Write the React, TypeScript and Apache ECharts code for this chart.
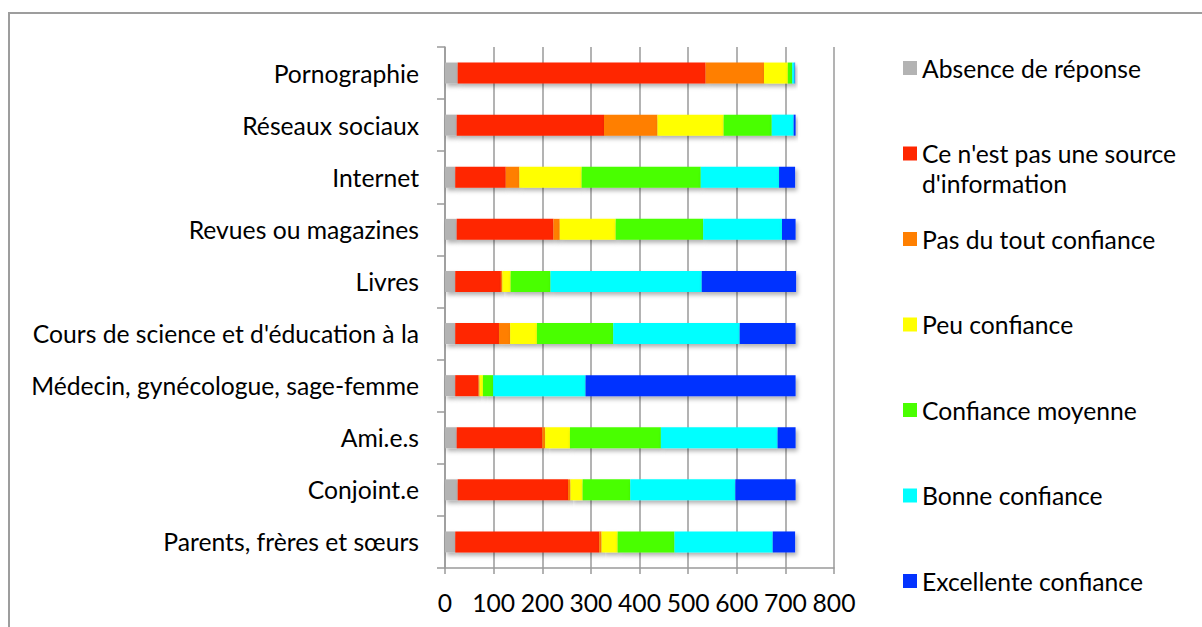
import React, { useEffect, useRef } from "react";
import * as echarts from "echarts";

const categories = [
  "Pornographie",
  "Réseaux sociaux",
  "Internet",
  "Revues ou magazines",
  "Livres",
  "Cours de science et d'éducation à la",
  "Médecin, gynécologue, sage-femme",
  "Ami.e.s",
  "Conjoint.e",
  "Parents, frères et sœurs",
];

const seriesNames = [
  "Absence de réponse",
  "Ce n'est pas une source d'information",
  "Pas du tout confiance",
  "Peu confiance",
  "Confiance moyenne",
  "Bonne confiance",
  "Excellente confiance",
];

const absence = [26, 24, 21, 24, 21, 21, 21, 24, 26, 21];
const pasSource = [510, 303, 104, 199, 94, 90, 48, 176, 227, 296];
const pasDuTout = [120, 110, 28, 13, 3, 23, 2, 6, 5, 5];
const peu = [49, 136, 128, 115, 17, 55, 7, 51, 25, 33];
const moyenne = [9, 99, 245, 180, 82, 157, 21, 187, 98, 117];
const bonne = [5, 45, 161, 162, 311, 260, 190, 240, 216, 202];
const excellente = [1, 4, 33, 28, 194, 115, 432, 37, 124, 46];

const values = [absence, pasSource, pasDuTout, peu, moyenne, bonne, excellente];
const colors = ["#b3b3b3", "#ff2600", "#ff7f00", "#ffff00", "#4aff00", "#00ffff", "#0433ff"];
const xTicks = [0, 100, 200, 300, 400, 500, 600, 700, 800];

const FONT = "Lato";
const FS = 24.7;

export default function App() {
  const ref = useRef<HTMLDivElement>(null);
  useEffect(() => {
    if (!ref.current) return;
    const chart = echarts.init(ref.current, undefined, { renderer: "svg" });
    const legendCenters = [68, 153.5, 239, 324.5, 410, 495.5, 581];
    const legends = seriesNames.map((name, i) => {
      const twoLine = i === 1;
      return {
        show: true,
        orient: "vertical",
        left: 903,
        top: twoLine ? legendCenters[i] - 45 : legendCenters[i] - 15,
        padding: 0,
        itemWidth: 14,
        itemHeight: 14,
        icon: "rect",
        selectedMode: false,
        data: [name],
        formatter: (n: string) =>
          n === "Ce n'est pas une source d'information" ? "\nCe n'est pas une source\nd'information" : n,
        textStyle: { fontFamily: FONT, fontSize: FS, color: "#000", lineHeight: twoLine ? 30 : 30 },
      };
    });
    chart.setOption({
      animation: false,
      backgroundColor: "#fff",
      color: colors,
      graphic: [
        {
          type: "rect",
          shape: { x: 9, y: 13, width: 1250, height: 700 },
          style: { fill: "none", stroke: "#9d9d9d", lineWidth: 2 },
          silent: true,
        },
      ],
      legend: legends,
      grid: { left: 445, top: 47, width: 389, height: 521, containLabel: false },
      xAxis: {
        type: "value",
        min: xTicks[0],
        max: xTicks[xTicks.length - 1],
        interval: 100,
        axisLine: { show: true, lineStyle: { color: "#9a9a9a", width: 1.5 } },
        axisTick: { show: true, length: 6, lineStyle: { color: "#9a9a9a", width: 1.5 } },
        splitLine: { show: true, lineStyle: { color: "#9a9a9a", width: 1.5 } },
        axisLabel: { fontFamily: FONT, fontSize: FS, color: "#000", margin: 22 },
      },
      yAxis: {
        type: "category",
        inverse: true,
        data: categories,
        axisLine: { show: true, lineStyle: { color: "#9a9a9a", width: 1.5 } },
        axisTick: { show: true, length: 8, lineStyle: { color: "#9a9a9a", width: 1.5 } },
        axisLabel: { fontFamily: FONT, fontSize: FS, color: "#000", margin: 26 },
      },
      series: values.map((vals, i) => ({
        name: seriesNames[i],
        type: "bar",
        stack: "total",
        barWidth: 21,
        data: vals,
        itemStyle: {
          color: colors[i],
          shadowBlur: 4,
          shadowOffsetX: 2,
          shadowOffsetY: 3,
          shadowColor: "rgba(0,0,0,0.3)",
        },
      })),
    });
    return () => chart.dispose();
  }, []);
  return (
    <div
      ref={ref}
      style={{ position: "fixed", left: 0, top: 0, width: 1202, height: 627, background: "#fff" }}
    />
  );
}
